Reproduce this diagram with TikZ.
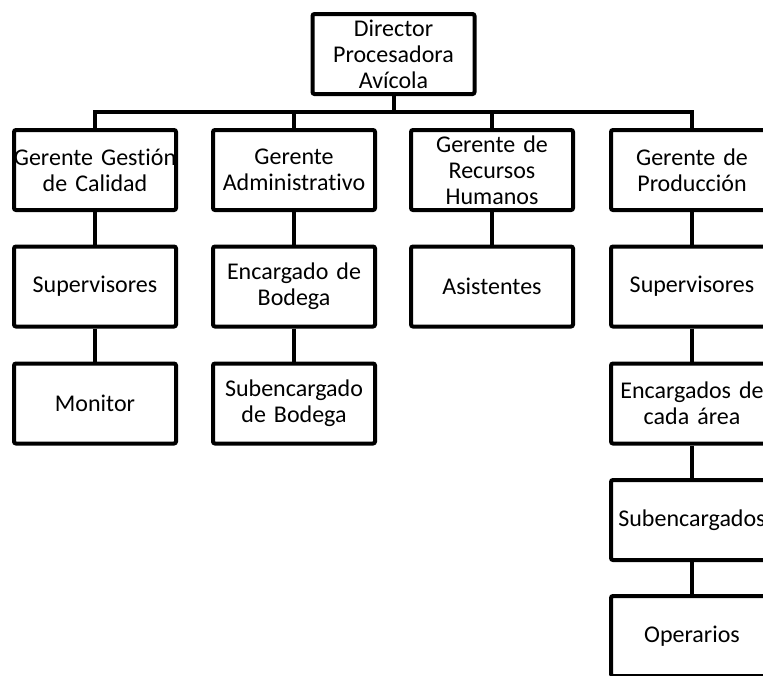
\documentclass[tikz,border=0pt]{standalone}
\usepackage{fontspec}
\setmainfont{Carlito}[Ligatures=NoCommon]
\newcommand{\ancho}[1]{\makebox[0pt]{#1}}

\begin{document}
\begin{tikzpicture}[x=1pt, y=-1pt,
    puesto/.style={rectangle, draw, line width=4pt, rounded corners=2pt, minimum width=162pt, minimum height=80pt, text width=150pt, align=center, inner ysep=0pt, font=\fontsize{24}{26}\selectfont},
    enlace/.style={line width=4pt}
]
\clip (0,0) rectangle (763,675);

% Direccion
\node[puesto] (director) at (393.5,54) {Director \\ Procesadora \\ Avícola};
\coordinate (bus) at (393.5,112);

% Gerencia Calidad
\node[puesto] (calidad) at (95,170) {\ancho{Gerente Gestión} \\ de Calidad};
\node[puesto] (supcal) at (95,286.5) {Supervisores};
\node[puesto] (monitor) at (95,403.5) {Monitor};

% Gerencia Administrativa
\node[puesto] (admin) at (294,170) {Gerente \\ Administrativo};
\node[puesto] (bodega) at (294,286.5) {Encargado de \\ Bodega};
\node[puesto] (subbodega) at (294,403.5) {Subencargado \\ de Bodega};

% Gerencia Recursos Humanos
\node[puesto] (rrhh) at (492,170) {Gerente de \\ Recursos \\ Humanos};
\node[puesto] (asistentes) at (492,286.5) {Asistentes};

% Gerencia Produccion
\node[puesto] (produccion) at (692,170) {Gerente de \\ Producción};
\node[puesto] (supprod) at (692,286.5) {Supervisores};
\node[puesto] (areas) at (692,403.5) {\ancho{Encargados de} \\ cada área};
\node[puesto] (subenc) at (692,520) {\ancho{Subencargados}};
\node[puesto] (operarios) at (692,636) {Operarios};

% Enlaces
\draw[enlace] (director.south) -- (bus);
\draw[enlace] (bus) -| (calidad.north);
\draw[enlace] (bus) -| (admin.north);
\draw[enlace] (bus) -| (rrhh.north);
\draw[enlace] (bus) -| (produccion.north);
\draw[enlace] (calidad) -- (supcal);
\draw[enlace] (supcal) -- (monitor);
\draw[enlace] (admin) -- (bodega);
\draw[enlace] (bodega) -- (subbodega);
\draw[enlace] (rrhh) -- (asistentes);
\draw[enlace] (produccion) -- (supprod);
\draw[enlace] (supprod) -- (areas);
\draw[enlace] (areas) -- (subenc);
\draw[enlace] (subenc) -- (operarios);

\end{tikzpicture}
\end{document}
